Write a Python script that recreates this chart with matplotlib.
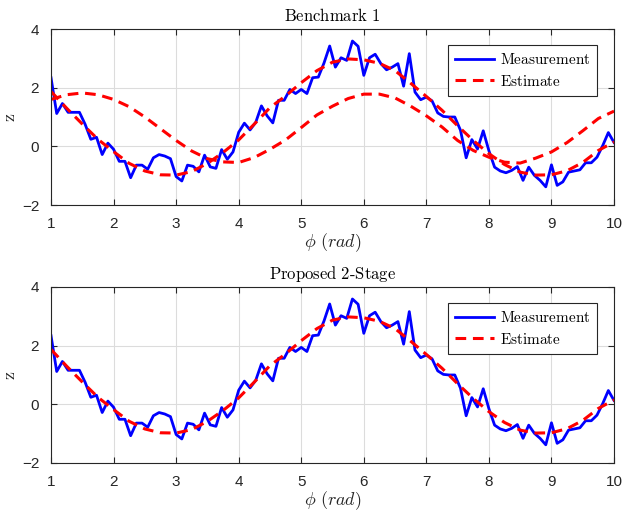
import numpy as np
import matplotlib
matplotlib.use("Agg")
import matplotlib.pyplot as plt

plt.rcParams['mathtext.fontset'] = 'cm'
plt.rcParams['font.family'] = ['Liberation Sans', 'DejaVu Sans']

# Measurement: 100 samples between 1 and 10
phi = np.linspace(1, 10, 100)
z_meas = [2.34, 1.12, 1.46, 1.16, 1.16, 1.16, 0.75, 0.24, 0.31, -0.28,
          0.11, -0.10, -0.51, -0.51, -1.07, -0.64, -0.64, -0.78, -0.39, -0.28,
          -0.33, -0.42, -1.03, -1.18, -0.64, -0.68, -0.87, -0.30, -0.70, -0.75,
          -0.11, -0.44, -0.19, 0.48, 0.79, 0.56, 0.82, 1.38, 1.04, 0.80,
          1.57, 1.57, 1.94, 1.80, 1.94, 1.80, 2.34, 2.36, 2.84, 3.42,
          2.70, 3.02, 2.93, 3.59, 3.41, 2.42, 3.02, 3.14, 2.82, 2.61,
          2.70, 2.82, 2.05, 3.16, 1.85, 1.59, 1.68, 1.55, 1.14, 1.02,
          1.00, 1.00, 0.55, -0.39, 0.23, -0.09, 0.53, -0.15, -0.71, -0.84,
          -0.90, -0.82, -0.69, -1.16, -0.71, -0.99, -1.16, -1.38, -0.63, -1.33,
          -1.21, -0.88, -0.84, -0.80, -0.56, -0.56, -0.37, 0.02, 0.47, 0.13]

# Estimates read every 0.25 rad
phi_est = np.arange(1, 10.01, 0.25)
z_est = [1.87, 1.30, 0.76, 0.24, -0.18, -0.58, -0.84, -0.97, -0.98, -0.86,
         -0.58, -0.21, 0.22, 0.76, 1.32, 1.72, 2.17, 2.58, 2.87, 2.98,
         2.95, 2.83, 2.58, 2.15, 1.70, 1.23, 0.70, 0.20, -0.25, -0.62,
         -0.88, -0.98, -0.97, -0.83, -0.55, -0.14, 0.15]
z_bench = [1.60, 1.76, 1.82, 1.76, 1.60, 1.35, 1.00, 0.60, 0.20, -0.16,
           -0.42, -0.53, -0.55, -0.38, -0.10, 0.22, 0.64, 1.07, 1.37, 1.63,
           1.78, 1.78, 1.65, 1.37, 1.04, 0.66, 0.20, -0.14, -0.37, -0.54,
           -0.57, -0.40, -0.19, 0.13, 0.53, 0.95, 1.20]

titles = [r"$\mathrm{Benchmark\ 1}$", r"$\mathrm{Proposed\ 2\text{-}Stage}$"]

fig = plt.figure(figsize=(6.23, 5.18), dpi=100)
ax1 = fig.add_axes([0.0819, 0.6042, 0.9037, 0.3398])
ax2 = fig.add_axes([0.0819, 0.1062, 0.9037, 0.3398])

for i, ax in enumerate([ax1, ax2]):
    ax.plot(phi, z_meas, color='#0000ff', lw=2, label=r"$\mathrm{Measurement}$")
    ax.plot(phi_est, z_est, color='#ff0000', lw=2.2, ls=(0, (3.5, 2.2)),
            label=r"$\mathrm{Estimate}$")
    if i == 0:
        ax.plot(phi_est, z_bench, color='#ff0000', lw=2.2, ls=(0, (3.5, 2.2)))
    ax.set_xlim(1, 10)
    ax.set_ylim(-2, 4)
    ax.set_xticks(range(1, 11))
    ax.set_yticks([-2, 0, 2, 4])
    ax.grid(True, color='#dcdcdc', lw=0.8)
    ax.set_axisbelow(True)
    ax.tick_params(direction='in', top=True, right=True, labelsize=11,
                   colors='#262626', length=4, pad=8.5)
    for s in ax.spines.values():
        s.set_color('#262626')
        s.set_linewidth(0.8)
    ax.set_title(titles[i], fontsize=12, pad=6)
    ax.set_xlabel(r"$\phi\ (rad)$", fontsize=13, color='#262626', labelpad=0)
    ax.set_ylabel(r"$\mathrm{z}$", fontsize=13, color='#262626', labelpad=2)
    leg = ax.legend(loc='upper right', bbox_to_anchor=(0.970, 0.909),
                    borderaxespad=0, fontsize=11, fancybox=False,
                    edgecolor='#262626', framealpha=1, handlelength=2.55,
                    labelspacing=0.45, borderpad=0.45, handletextpad=0.35)
    leg.get_frame().set_linewidth(0.8)

fig.savefig("out.png", dpi=100)
